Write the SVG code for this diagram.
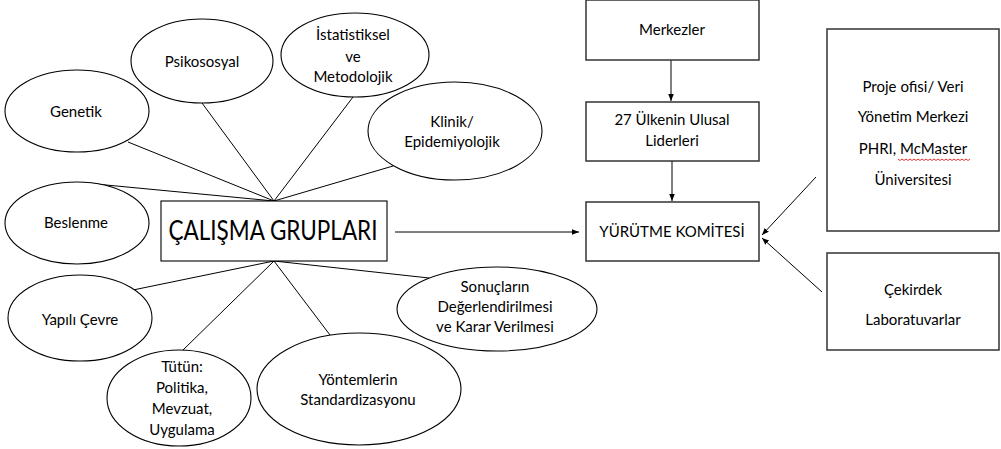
<svg xmlns="http://www.w3.org/2000/svg" width="1001" height="449" viewBox="0 0 1001 449">
<style>
.n{fill:#fff;stroke:#000;stroke-width:1.1}
.b{fill:#fff;stroke:#333;stroke-width:1.5}
.t{font-family:Lato,"Open Sans","Liberation Sans",sans-serif;font-size:15px;fill:#000;text-anchor:middle}
.c{stroke:#000;stroke-width:1;fill:none}
</style>
<defs>
<marker id="ah" viewBox="0 0 10 10" refX="10" refY="5" markerWidth="7" markerHeight="7" orient="auto" markerUnits="userSpaceOnUse">
<path d="M0,1 L10,5 L0,9 z" fill="#000"/>
</marker>
</defs>
<rect width="1001" height="449" fill="#fff"/>
<g id="connectors">
<line class="c" x1="128" y1="142" x2="274" y2="201"/>
<line class="c" x1="202" y1="103" x2="274" y2="201"/>
<line class="c" x1="353" y1="97" x2="274" y2="201"/>
<line class="c" x1="393" y1="166" x2="274" y2="201"/>
<line class="c" x1="85" y1="183" x2="274" y2="201"/>
<line class="c" x1="133" y1="290" x2="274" y2="261"/>
<line class="c" x1="183" y1="350" x2="274" y2="261"/>
<line class="c" x1="330" y1="335" x2="274" y2="261"/>
<line class="c" x1="429" y1="278" x2="274" y2="261"/>
<line class="c" x1="395" y1="232" x2="579" y2="232" marker-end="url(#ah)"/>
<line class="c" x1="671" y1="60" x2="671" y2="101" marker-end="url(#ah)"/>
<line class="c" x1="672" y1="161" x2="672" y2="201" marker-end="url(#ah)"/>
<line class="c" x1="816" y1="177" x2="762" y2="235" marker-end="url(#ah)"/>
<line class="c" x1="822" y1="292" x2="762" y2="238" marker-end="url(#ah)"/>
</g>
<g id="genetik"><ellipse class="n" cx="77" cy="111" rx="72" ry="41"/><text class="t" x="76" y="117">Genetik</text></g>
<g id="psikososyal"><ellipse class="n" cx="202" cy="61" rx="71" ry="42"/><text class="t" x="202" y="67">Psikososyal</text></g>
<g id="istatistiksel"><ellipse class="n" cx="355" cy="55" rx="74" ry="42"/><text class="t" x="353" y="40">İstatistiksel</text><text class="t" x="353" y="62">ve</text><text class="t" x="353" y="82">Metodolojik</text></g>
<g id="klinik"><ellipse class="n" cx="455" cy="131" rx="87" ry="49"/><text class="t" x="452" y="127">Klinik/</text><text class="t" x="452" y="147">Epidemiyolojik</text></g>
<g id="beslenme"><ellipse class="n" cx="77" cy="223" rx="72" ry="41"/><text class="t" x="76" y="228">Beslenme</text></g>
<g id="yapili"><ellipse class="n" cx="80" cy="318" rx="72" ry="43"/><text class="t" x="80" y="325">Yapılı Çevre</text></g>
<g id="tutun"><ellipse class="n" cx="179" cy="398" rx="72" ry="48"/><text class="t" x="182" y="372">Tütün:</text><text class="t" x="182" y="393">Politika,</text><text class="t" x="182" y="414">Mevzuat,</text><text class="t" x="182" y="435">Uygulama</text></g>
<g id="yontemlerin"><ellipse class="n" cx="359" cy="389" rx="102" ry="56"/><text class="t" x="358" y="385">Yöntemlerin</text><text class="t" x="358" y="405">Standardizasyonu</text></g>
<g id="sonuclarin"><ellipse class="n" cx="497" cy="309" rx="100" ry="42"/><text class="t" x="495" y="292">Sonuçların</text><text class="t" x="495" y="312">Değerlendirilmesi</text><text class="t" x="495" y="332">ve Karar Verilmesi</text></g>
<g id="calisma"><rect class="n" x="161" y="201" width="226" height="60"/><text class="t" x="273" y="240" style="font-size:27px" textLength="209" lengthAdjust="spacingAndGlyphs">ÇALIŞMA GRUPLARI</text></g>
<g id="merkezler"><rect class="b" x="586" y="0" width="173" height="60"/><text class="t" x="672" y="35">Merkezler</text></g>
<g id="liderler"><rect class="b" x="586" y="102" width="173" height="59"/><text class="t" x="672" y="125">27 Ülkenin Ulusal</text><text class="t" x="672" y="146">Liderleri</text></g>
<g id="yurutme"><rect class="b" x="586" y="202" width="173" height="59"/><text class="t" x="672" y="237">YÜRÜTME KOMİTESİ</text></g>
<g id="proje"><rect class="b" x="827" y="29" width="172" height="202"/><text class="t" x="913" y="92">Proje ofisi/ Veri</text><text class="t" x="913" y="122">Yönetim Merkezi</text><text class="t" x="913" y="154">PHRI, McMaster</text><path d="M898,159 l2,1.5 l2,-1.5 l2,1.5 l2,-1.5 l2,1.5 l2,-1.5 l2,1.5 l2,-1.5 l2,1.5 l2,-1.5 l2,1.5 l2,-1.5 l2,1.5 l2,-1.5 l2,1.5 l2,-1.5 l2,1.5 l2,-1.5 l2,1.5 l2,-1.5 l2,1.5 l2,-1.5 l2,1.5 l2,-1.5 l2,1.5 l2,-1.5 l2,1.5 l2,-1.5 l2,1.5 l2,-1.5 l2,1.5 l2,-1.5 l2,1.5 l2,-1.5 l2,1.5 l2,-1.5" fill="none" stroke="#d00" stroke-width="0.8"/><text class="t" x="913" y="185">Üniversitesi</text></g>
<g id="cekirdek"><rect class="b" x="827" y="253" width="172" height="97"/><text class="t" x="913" y="295">Çekirdek</text><text class="t" x="913" y="325">Laboratuvarlar</text></g>
</svg>
